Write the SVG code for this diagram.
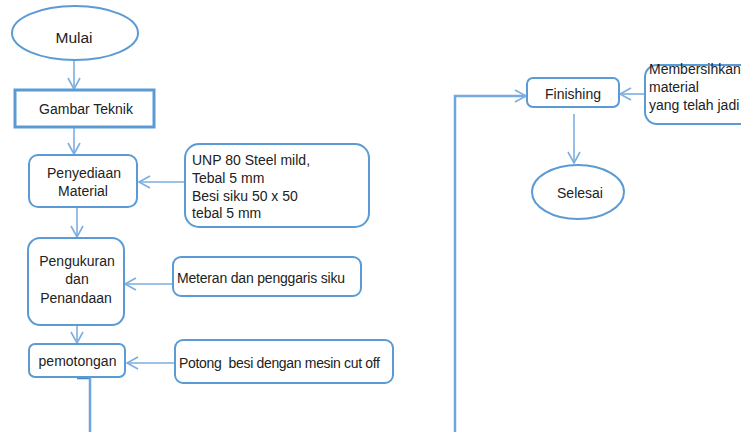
<svg xmlns="http://www.w3.org/2000/svg" width="741" height="432" viewBox="0 0 741 432">
<style>
.n{fill:#fff;stroke:#5B9BD5;stroke-width:2}
.t{font-family:"Liberation Sans",Arial,sans-serif;font-size:14px;fill:#222}
.c{text-anchor:middle}
.k{fill:none;stroke:#7DAEE0;stroke-width:1.6}
</style>
<defs>
<marker id="a" markerWidth="14" markerHeight="14" refX="12" refY="7" orient="auto" markerUnits="userSpaceOnUse">
<path d="M1,1 L12,7 L1,13" fill="none" stroke="#7DAEE0" stroke-width="1.6"/>
</marker>
</defs>
<rect width="741" height="432" fill="#fff"/>
<g id="connectors">
<path class="k" d="M74,60 V89" marker-end="url(#a)"/>
<path class="k" d="M74,127 V154" marker-end="url(#a)"/>
<path class="k" d="M77,207 V237" marker-end="url(#a)"/>
<path class="k" d="M77,325 V343" marker-end="url(#a)"/>
<path class="k" d="M185,182 H139" marker-end="url(#a)"/>
<path class="k" d="M173,284 H125" marker-end="url(#a)"/>
<path class="k" d="M175,363 H127" marker-end="url(#a)"/>
<path d="M77,378 H90" stroke="#4A86C5" stroke-width="2.5"/>
<path d="M90,377 V432" fill="none" stroke="#6FA5DC" stroke-width="2.5"/>
<path d="M455,432 V96 H526" fill="none" stroke="#6FA5DC" stroke-width="2.5"/>
<path d="M455,96 H526" class="k" marker-end="url(#a)"/>
<path class="k" d="M645,94 H620" marker-end="url(#a)"/>
<path class="k" d="M574,114 V163" marker-end="url(#a)"/>
</g>
<g id="mulai">
<ellipse class="n" cx="75" cy="33" rx="63" ry="27"/>
<text class="t c" x="74" y="43" style="font-size:15.5px">Mulai</text>
</g>
<g id="gambar">
<rect x="15" y="90" width="139" height="37" fill="#fff" stroke="#5B9BD5" stroke-width="3"/>
<text class="t c" x="86" y="114">Gambar Teknik</text>
</g>
<g id="penyediaan">
<rect class="n" x="29" y="155" width="108" height="52" rx="9"/>
<text class="t c" x="84" y="178">Penyediaan</text>
<text class="t c" x="83" y="196">Material</text>
</g>
<g id="pengukuran">
<rect class="n" x="28" y="238" width="96" height="87" rx="12"/>
<text class="t c" x="77" y="266">Pengukuran</text>
<text class="t c" x="77" y="284">dan</text>
<text class="t c" x="76" y="303">Penandaan</text>
</g>
<g id="pemotongan">
<rect class="n" x="29" y="344" width="96" height="33" rx="6"/>
<text class="t c" x="77.5" y="366">pemotongan</text>
</g>
<g id="unp">
<rect class="n" x="185" y="144" width="184" height="83" rx="14"/>
<text class="t" x="192" y="165">UNP 80 Steel mild,</text>
<text class="t" x="192" y="183">Tebal 5 mm</text>
<text class="t" x="192" y="201">Besi siku 50 x 50</text>
<text class="t" x="192" y="218">tebal 5 mm</text>
</g>
<g id="meteran">
<rect class="n" x="173" y="257" width="188" height="39" rx="8"/>
<text class="t" x="177" y="283" textLength="168">Meteran dan penggaris siku</text>
</g>
<g id="potong">
<rect class="n" x="175" y="340" width="218" height="43" rx="8"/>
<text class="t" x="179" y="368" xml:space="preserve" textLength="201">Potong  besi dengan mesin cut off</text>
</g>
<g id="finishing">
<rect class="n" x="527" y="78" width="92" height="29" rx="6"/>
<text class="t c" x="573" y="99">Finishing</text>
</g>
<g id="membersihkan">
<rect class="n" x="645" y="65" width="110" height="59" rx="12"/>
<text class="t" x="649" y="74">Membersihkan</text>
<text class="t" x="649" y="92">material</text>
<text class="t" x="649" y="110">yang telah jadi</text>
</g>
<g id="selesai">
<ellipse class="n" cx="578" cy="192" rx="46" ry="27"/>
<text class="t c" x="580" y="198">Selesai</text>
</g>
</svg>
